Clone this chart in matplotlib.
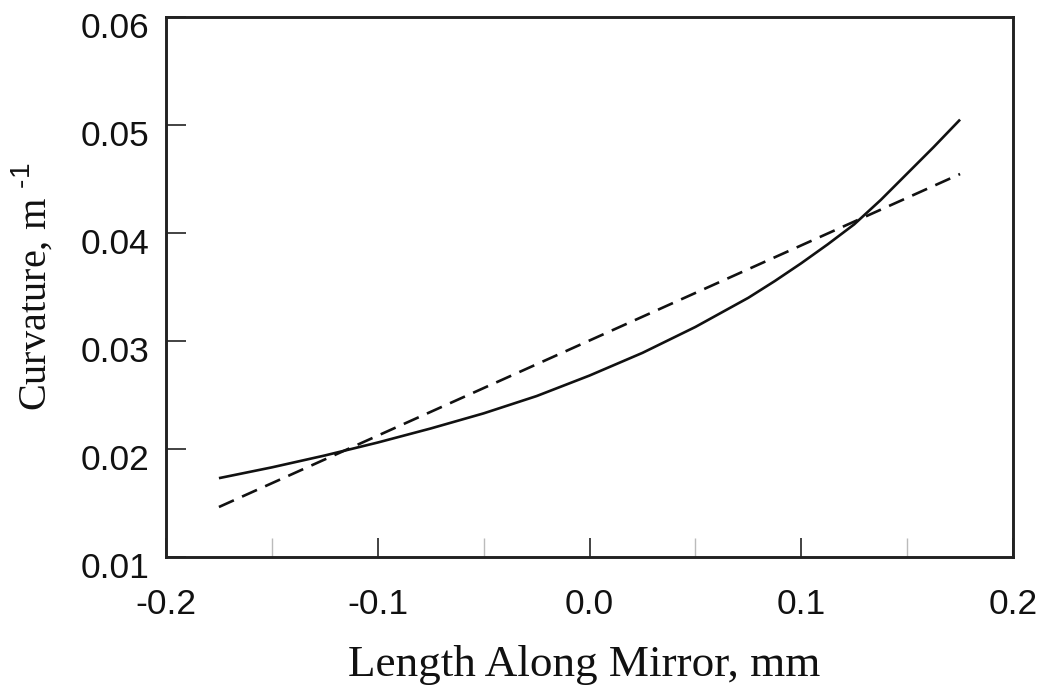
import matplotlib
matplotlib.use("Agg")
import matplotlib.pyplot as plt
import matplotlib.transforms as mtransforms

# Data
x_solid = [-0.175, -0.15, -0.125, -0.1, -0.075, -0.05, -0.025, 0.0,
           0.025, 0.05, 0.075, 0.0875, 0.1, 0.1125, 0.125, 0.1375, 0.15,
           0.1625, 0.175]
y_solid = [0.0173, 0.0183, 0.0194, 0.0206, 0.0219, 0.0233, 0.0249, 0.0268,
           0.0289, 0.0313, 0.0340, 0.03555, 0.0372, 0.03895, 0.0408, 0.04305,
           0.0455, 0.04795, 0.0505]
x_dashed = [-0.175, 0.175]
y_dashed = [0.01463, 0.04546]

x_ticks = [-0.2, -0.1, 0.0, 0.1, 0.2]
x_tick_labels = ["-0.2", "-0.1", "0.0", "0.1", "0.2"]
x_minor = [-0.15, -0.05, 0.05, 0.15]
y_ticks = [0.01, 0.02, 0.03, 0.04, 0.05, 0.06]
y_tick_labels = ["0.01", "0.02", "0.03", "0.04", "0.05", "0.06"]

plt.rcParams['mathtext.fontset'] = 'custom'
plt.rcParams['mathtext.rm'] = 'Liberation Sans'

fig = plt.figure(figsize=(10.43, 6.92), dpi=100)
ax = fig.add_axes([166/1043, 1 - 557/692, (1013-166)/1043, (557-17)/692])

ax.plot(x_solid, y_solid, color='#111111', lw=1.9, solid_capstyle='butt',
        solid_joinstyle='round')
ax.plot(x_dashed, y_dashed, color='#111111', lw=1.9, dashes=(6.2, 3.4))

ax.set_xlim(-0.2, 0.2)
ax.set_ylim(0.01, 0.06)
ax.set_xticks(x_ticks)
ax.set_xticklabels(x_tick_labels)
ax.set_xticks(x_minor, minor=True)
ax.set_yticks(y_ticks)
ax.set_yticklabels(y_tick_labels)

ax.tick_params(axis='x', which='major', direction='in', length=13.7, width=1.2,
               color='#222222', pad=22, top=False)
ax.tick_params(axis='x', which='minor', direction='in', length=13.7, width=1.0,
               color='#bbbbbb', top=False)
ax.tick_params(axis='y', which='major', direction='in', length=14.4, width=1.2,
               color='#222222', pad=12, right=False)

offset = mtransforms.ScaledTranslation(0, -8/100, fig.dpi_scale_trans)
for lab in ax.get_yticklabels():
    lab.set_transform(lab.get_transform() + offset)
for lab in ax.get_xticklabels() + ax.get_yticklabels():
    lab.set_fontfamily('Liberation Sans')
    lab.set_fontsize(25.5)
    lab.set_color('#111111')

for s in ax.spines.values():
    s.set_linewidth(2.1)
    s.set_color('#222222')

ax.set_xlabel("Length Along Mirror, mm", fontfamily='Liberation Serif',
              fontsize=32.5, color='#111111')
ax.xaxis.set_label_coords(0.4935, -0.163)
ax.set_ylabel("Curvature, m $^{\\text{-1}}$", fontfamily='Liberation Serif',
              fontsize=29, color='#111111')
ax.yaxis.set_label_coords(-0.131, 0.5)

fig.savefig("out.png", dpi=100, facecolor='white')
